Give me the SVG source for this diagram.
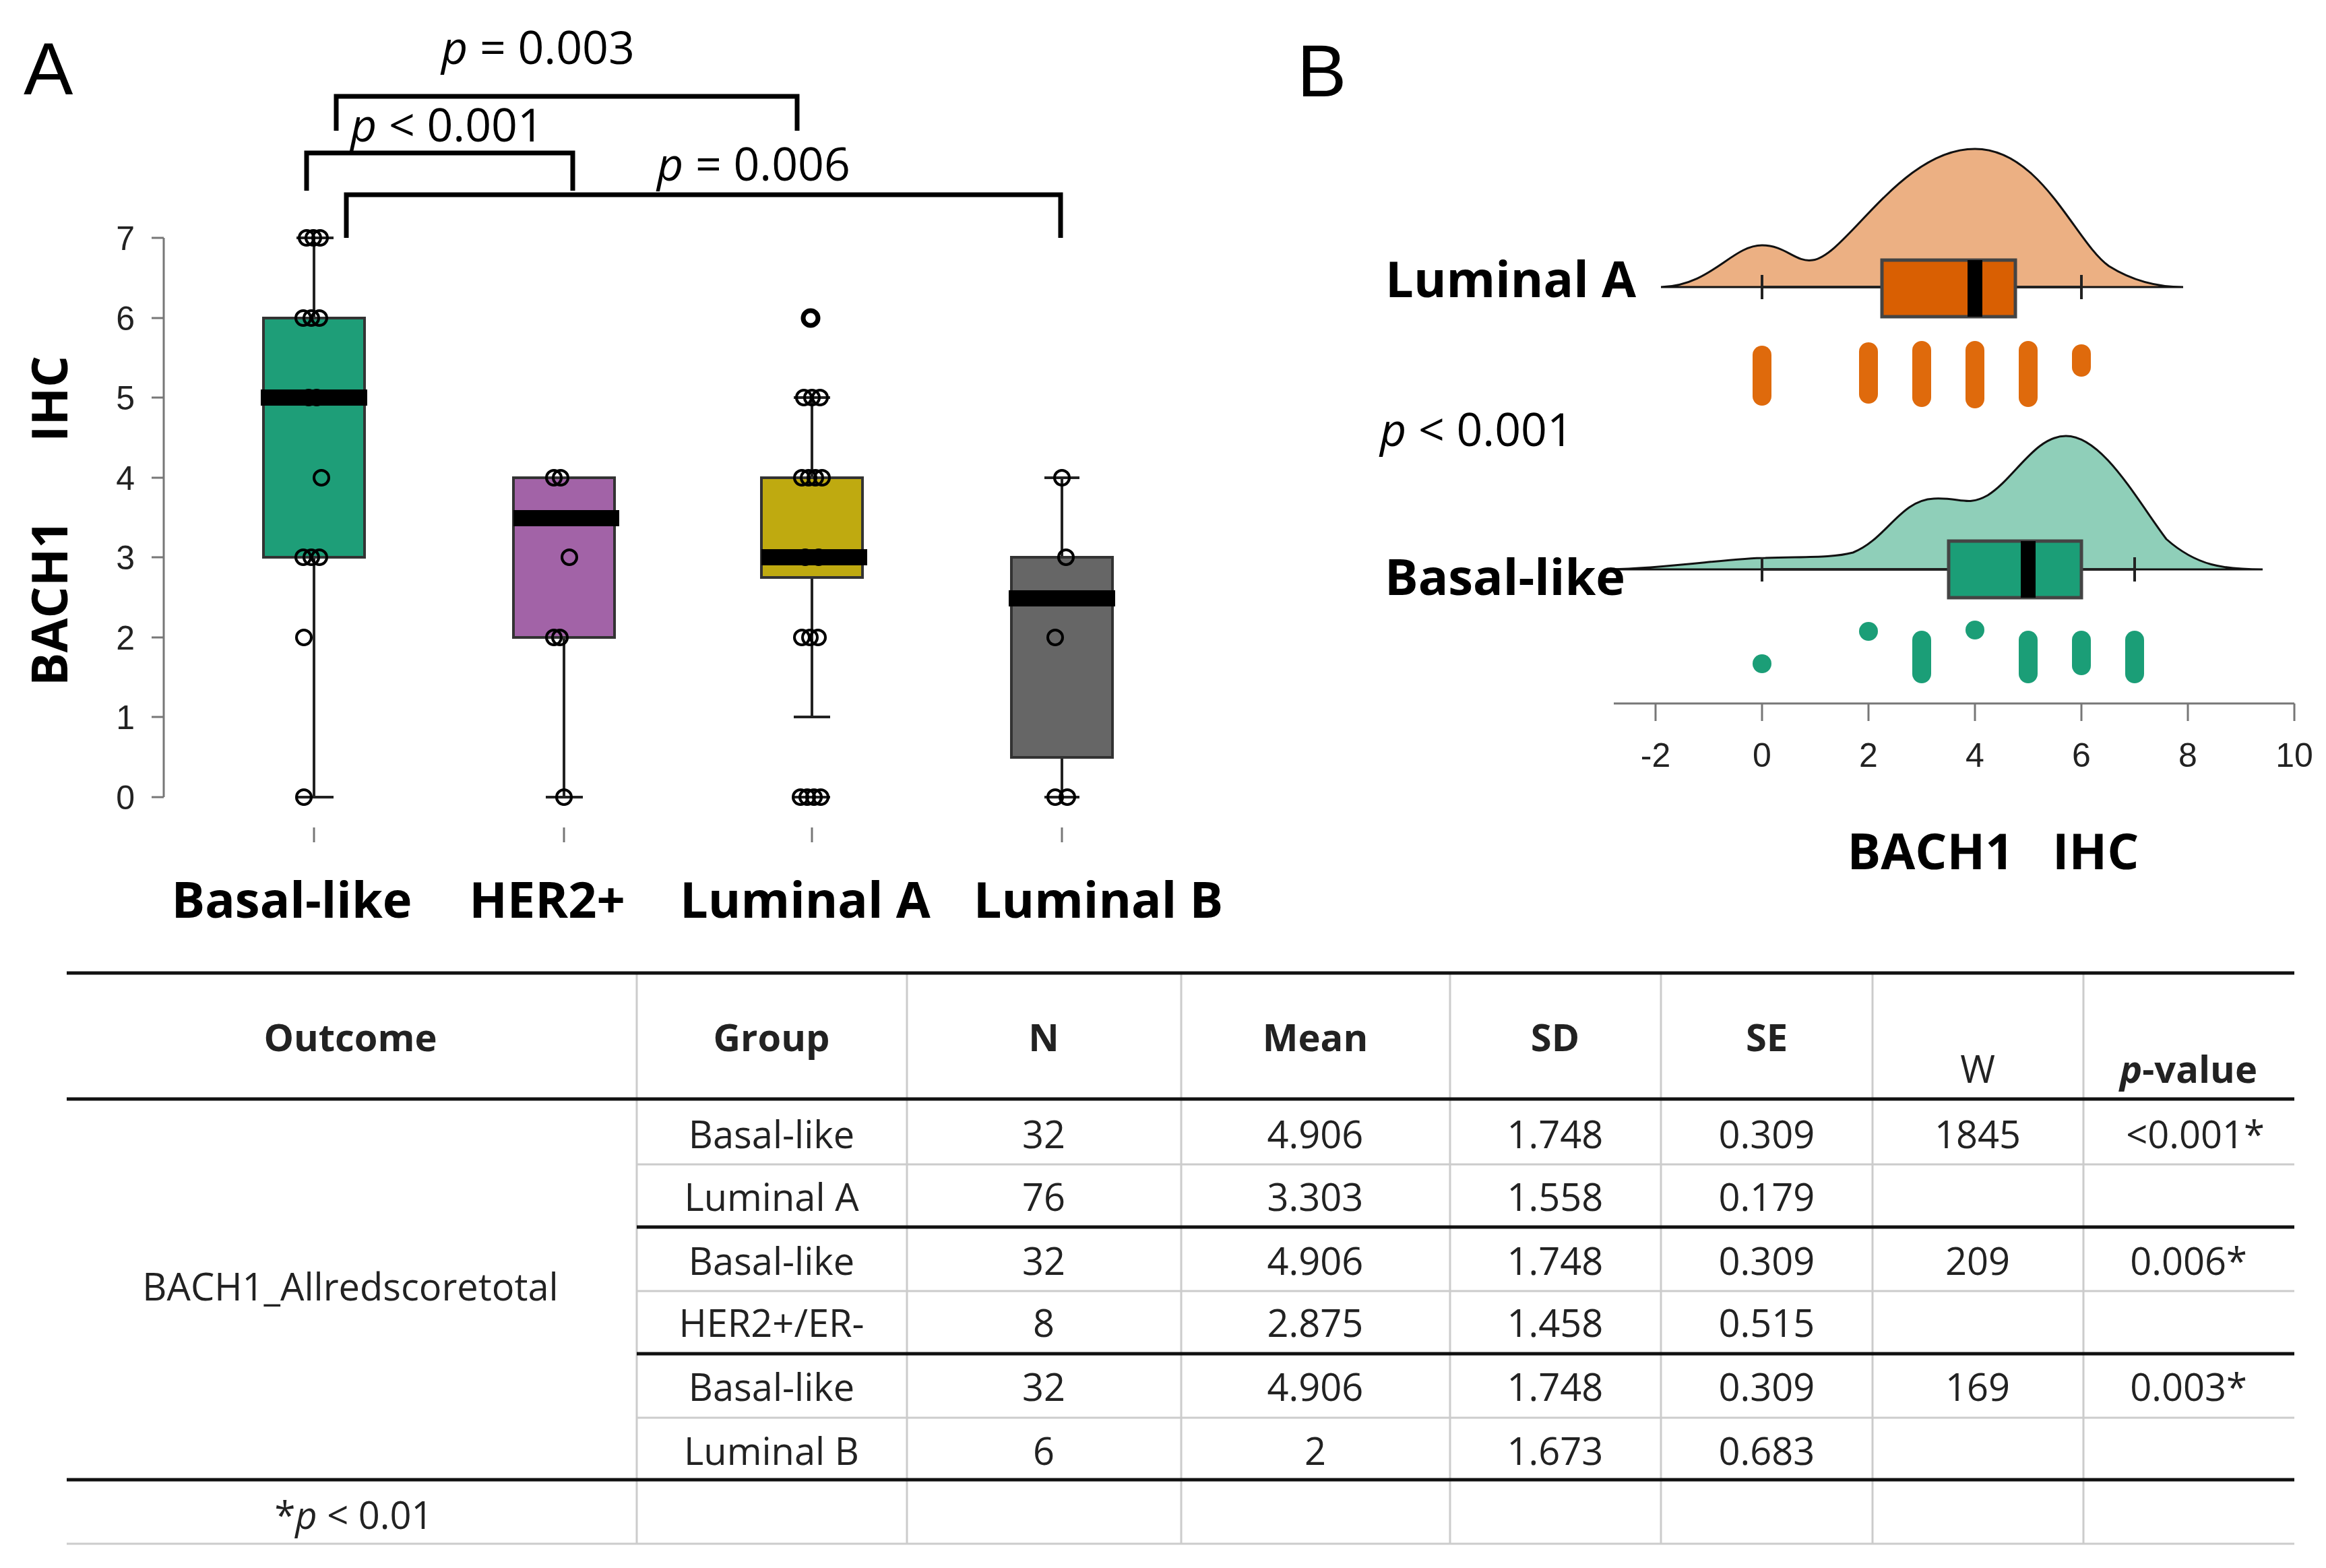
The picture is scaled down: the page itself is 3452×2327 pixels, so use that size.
<svg xmlns="http://www.w3.org/2000/svg" width="3452" height="2327" viewBox="0 0 3452 2327">
<style>
.panel{font-family:"Liberation Sans",Arial,sans-serif;font-size:110px;fill:#000}
.ax{font-family:"Liberation Sans",Arial,sans-serif;font-size:50px;fill:#222}
.bl{font-family:"Open Sans","Liberation Sans",sans-serif;font-weight:bold;font-size:74px;fill:#000}
.pv{font-family:"Open Sans","Liberation Sans",sans-serif;font-size:68px;fill:#000}
.th{font-family:"Open Sans","Liberation Sans",sans-serif;font-weight:bold;font-size:56px;fill:#222;text-anchor:middle}
.td{font-family:"Open Sans","Liberation Sans",sans-serif;font-size:56px;fill:#222;text-anchor:middle}
.br{fill:none;stroke:#000;stroke-width:7}
.oc{fill:none;stroke:#000;stroke-width:4}
.wk{stroke:#222;stroke-width:4;fill:none}
.med{fill:#000}
.thick{stroke:#111;stroke-width:5}
.thin{stroke:#ccc;stroke-width:3}
</style>
<rect width="3452" height="2327" fill="#fff"/>
<g id="panelA">
<text class="panel" x="35" y="140">A</text>
<g id="yaxisA">
<line x1="243" y1="353" x2="243" y2="1183" stroke="#777" stroke-width="3"/>
<g stroke="#777" stroke-width="3">
<line x1="225" y1="353" x2="243" y2="353"/><line x1="225" y1="472" x2="243" y2="472"/><line x1="225" y1="590" x2="243" y2="590"/><line x1="225" y1="709" x2="243" y2="709"/><line x1="225" y1="827" x2="243" y2="827"/><line x1="225" y1="946" x2="243" y2="946"/><line x1="225" y1="1064" x2="243" y2="1064"/><line x1="225" y1="1183" x2="243" y2="1183"/>
</g>
<g class="ax" text-anchor="end">
<text x="200" y="371">7</text><text x="200" y="490">6</text><text x="200" y="608">5</text><text x="200" y="727">4</text><text x="200" y="845">3</text><text x="200" y="964">2</text><text x="200" y="1082">1</text><text x="200" y="1201">0</text>
</g>
<text class="bl" transform="translate(100,773) rotate(-90)" text-anchor="middle" xml:space="preserve">BACH1      IHC</text>
</g>
<g id="xticksA" stroke="#777" stroke-width="3">
<line x1="466" y1="1228" x2="466" y2="1250"/><line x1="837" y1="1228" x2="837" y2="1250"/><line x1="1205" y1="1228" x2="1205" y2="1250"/><line x1="1576" y1="1228" x2="1576" y2="1250"/>
</g>
<g class="bl" text-anchor="middle">
<text x="433" y="1362">Basal-like</text><text x="812" y="1362">HER2+</text><text x="1195" y="1362">Luminal A</text><text x="1630" y="1362">Luminal B</text>
</g>
<g id="box-basal">
<line class="wk" x1="466" y1="353" x2="466" y2="1183"/>
<line class="wk" x1="440" y1="353" x2="495" y2="353"/><line class="wk" x1="440" y1="1183" x2="495" y2="1183"/>
<rect x="391" y="472" width="150" height="355" fill="#1e9e78" stroke="#333" stroke-width="4"/>
<rect class="med" x="387" y="578" width="158" height="24"/>
<g class="oc"><circle cx="455" cy="353" r="11"/><circle cx="465" cy="353" r="11"/><circle cx="475" cy="353" r="11"/><circle cx="450" cy="472" r="11"/><circle cx="462" cy="472" r="11"/><circle cx="474" cy="472" r="11"/><circle cx="458" cy="590" r="11"/><circle cx="470" cy="590" r="11"/><circle cx="477" cy="709" r="11"/><circle cx="450" cy="827" r="11"/><circle cx="462" cy="827" r="11"/><circle cx="474" cy="827" r="11"/><circle cx="451" cy="946" r="11"/><circle cx="451" cy="1183" r="11"/></g>
</g>
<g id="box-her2">
<line class="wk" x1="837" y1="946" x2="837" y2="1183"/>
<line class="wk" x1="810" y1="1183" x2="865" y2="1183"/>
<rect x="762" y="709" width="150" height="237" fill="#a263a7" stroke="#333" stroke-width="4"/>
<rect class="med" x="762" y="757" width="157" height="24"/>
<g class="oc"><circle cx="822" cy="709" r="11"/><circle cx="832" cy="709" r="11"/><circle cx="845" cy="827" r="11"/><circle cx="822" cy="946" r="11"/><circle cx="831" cy="946" r="11"/><circle cx="837" cy="1183" r="11"/></g>
</g>
<g id="box-luma">
<line class="wk" x1="1205" y1="590" x2="1205" y2="1064"/>
<line class="wk" x1="1178" y1="590" x2="1232" y2="590"/><line class="wk" x1="1178" y1="1183" x2="1232" y2="1183"/>
<rect x="1130" y="709" width="150" height="148" fill="#bfaa10" stroke="#333" stroke-width="4"/>
<rect class="med" x="1130" y="815" width="157" height="24"/>
<g class="oc"><circle cx="1203" cy="472" r="11" stroke-width="7"/><circle cx="1193" cy="590" r="11"/><circle cx="1205" cy="590" r="11"/><circle cx="1217" cy="590" r="11"/><circle cx="1190" cy="709" r="11"/><circle cx="1200" cy="709" r="11"/><circle cx="1210" cy="709" r="11"/><circle cx="1220" cy="709" r="11"/><circle cx="1195" cy="827" r="11"/><circle cx="1215" cy="827" r="11"/><circle cx="1190" cy="946" r="11"/><circle cx="1202" cy="946" r="11"/><circle cx="1214" cy="946" r="11"/><circle cx="1188" cy="1183" r="11"/><circle cx="1198" cy="1183" r="11"/><circle cx="1208" cy="1183" r="11"/><circle cx="1218" cy="1183" r="11"/></g>
<line class="wk" x1="1178" y1="1064" x2="1232" y2="1064" stroke-width="0"/>
</g>
<g id="box-lumb">
<line class="wk" x1="1576" y1="709" x2="1576" y2="1124"/>
<line class="wk" x1="1550" y1="709" x2="1602" y2="709"/><line class="wk" x1="1550" y1="1183" x2="1602" y2="1183"/>
<line class="wk" x1="1576" y1="1124" x2="1576" y2="1183"/>
<rect x="1501" y="827" width="150" height="297" fill="#666" stroke="#333" stroke-width="4"/>
<rect class="med" x="1497" y="876" width="158" height="24"/>
<g class="oc"><circle cx="1576" cy="709" r="11"/><circle cx="1582" cy="827" r="11"/><circle cx="1566" cy="946" r="11"/><circle cx="1566" cy="1183" r="11"/><circle cx="1584" cy="1183" r="11"/></g>
</g>
<g id="brackets">
<path class="br" d="M455,283 V227 H850 V283"/>
<path class="br" d="M499,194 V143 H1183 V194"/>
<path class="br" d="M514,353 V289 H1574 V353"/>
</g>
<text class="pv" x="655" y="95"><tspan font-style="italic">p</tspan> = 0.003</text>
<text class="pv" x="520" y="210"><tspan font-style="italic">p</tspan> &lt; 0.001</text>
<text class="pv" x="975" y="268"><tspan font-style="italic">p</tspan> = 0.006</text>
</g>
<g id="panelB">
<text class="panel" x="1925" y="143">B</text>
<g id="lumA-rain">
<path d="M2465,426 C2540,424 2570,364 2615,364 C2650,364 2665,390 2690,386 C2740,380 2820,221 2931,221 C3030,221 3080,360 3130,395 C3170,420 3210,426 3240,426 Z" fill="#ecb083" stroke="#111" stroke-width="3"/>
<line class="wk" x1="2615" y1="426" x2="3089" y2="426" stroke-width="5"/>
<line class="wk" x1="2615" y1="408" x2="2615" y2="444" stroke-width="5"/><line class="wk" x1="3089" y1="408" x2="3089" y2="444" stroke-width="5"/>
<rect x="2793" y="386" width="198" height="84" fill="#d95f02" stroke="#444" stroke-width="5"/>
<rect x="2920" y="386" width="22" height="84" fill="#000"/>
<g stroke="#df6a0c" stroke-width="28" stroke-linecap="round">
<line x1="2615" y1="527" x2="2615" y2="588"/><line x1="2773" y1="522" x2="2773" y2="585"/><line x1="2852" y1="520" x2="2852" y2="590"/><line x1="2931" y1="520" x2="2931" y2="592"/><line x1="3010" y1="520" x2="3010" y2="590"/><line x1="3089" y1="525" x2="3089" y2="545"/>
</g>
<text class="bl" x="2428" y="441" text-anchor="end">Luminal A</text>
</g>
<text class="pv" x="2048" y="662"><tspan font-style="italic">p</tspan> &lt; 0.001</text>
<g id="basal-rain">
<path d="M2390,845 C2480,843 2570,828 2620,828 C2680,826 2720,828 2750,820 C2800,800 2820,742 2870,740 C2910,738 2920,752 2950,735 C2990,710 3020,647 3066,647 C3120,647 3170,740 3215,800 C3260,840 3300,845 3358,845 Z" fill="#8fcfb9" stroke="#111" stroke-width="3"/>
<line class="wk" x1="2615" y1="845" x2="3168" y2="845" stroke-width="5"/>
<line class="wk" x1="2615" y1="827" x2="2615" y2="863" stroke-width="5"/><line class="wk" x1="3168" y1="827" x2="3168" y2="863" stroke-width="5"/>
<rect x="2892" y="803" width="197" height="84" fill="#1b9e77" stroke="#444" stroke-width="5"/>
<rect x="2999" y="803" width="22" height="84" fill="#000"/>
<g fill="#1b9e77"><circle cx="2615" cy="985" r="14"/><circle cx="2773" cy="937" r="14"/><circle cx="2931" cy="935" r="14"/></g>
<g stroke="#1b9e77" stroke-width="28" stroke-linecap="round">
<line x1="2852" y1="950" x2="2852" y2="1000"/><line x1="3010" y1="950" x2="3010" y2="1000"/><line x1="3089" y1="950" x2="3089" y2="988"/><line x1="3168" y1="950" x2="3168" y2="1000"/>
</g>
<text class="bl" x="2412" y="883" text-anchor="end">Basal-like</text>
</g>
<g id="xaxisB" stroke="#777" stroke-width="3">
<line x1="2395" y1="1044" x2="3405" y2="1044"/>
<line x1="2457" y1="1044" x2="2457" y2="1070"/><line x1="2615" y1="1044" x2="2615" y2="1070"/><line x1="2773" y1="1044" x2="2773" y2="1070"/><line x1="2931" y1="1044" x2="2931" y2="1070"/><line x1="3089" y1="1044" x2="3089" y2="1070"/><line x1="3247" y1="1044" x2="3247" y2="1070"/><line x1="3405" y1="1044" x2="3405" y2="1070"/>
</g>
<g class="ax" text-anchor="middle">
<text x="2457" y="1138">-2</text><text x="2615" y="1138">0</text><text x="2773" y="1138">2</text><text x="2931" y="1138">4</text><text x="3089" y="1138">6</text><text x="3247" y="1138">8</text><text x="3405" y="1138">10</text>
</g>
<text class="bl" x="2958" y="1290" text-anchor="middle" xml:space="preserve">BACH1   IHC</text>
</g>
<g id="table">
<g class="thin">
<line x1="945" y1="1444" x2="945" y2="2291"/><line x1="1346" y1="1444" x2="1346" y2="2291"/><line x1="1753" y1="1444" x2="1753" y2="2291"/><line x1="2152" y1="1444" x2="2152" y2="2291"/><line x1="2465" y1="1444" x2="2465" y2="2291"/><line x1="2779" y1="1444" x2="2779" y2="2291"/><line x1="3092" y1="1444" x2="3092" y2="2291"/>
<line x1="945" y1="1728" x2="3405" y2="1728"/><line x1="945" y1="1916" x2="3405" y2="1916"/><line x1="945" y1="2104" x2="3405" y2="2104"/><line x1="99" y1="2291" x2="3405" y2="2291"/>
</g>
<g class="thick">
<line x1="99" y1="1444" x2="3405" y2="1444"/><line x1="99" y1="1631" x2="3405" y2="1631"/><line x1="945" y1="1821" x2="3405" y2="1821"/><line x1="945" y1="2009" x2="3405" y2="2009"/><line x1="99" y1="2196" x2="3405" y2="2196"/>
</g>
<g class="th">
<text x="520" y="1560">Outcome</text><text x="1145" y="1560">Group</text><text x="1549" y="1560">N</text><text x="1952" y="1560">Mean</text><text x="2308" y="1560">SD</text><text x="2622" y="1560">SE</text><text x="2935" y="1607" font-weight="normal">W</text><text x="3248" y="1607"><tspan font-style="italic">p</tspan>-value</text>
</g>
<g class="td">
<text x="520" y="1930">BACH1_Allredscoretotal</text>
<text x="1145" y="1704">Basal-like</text><text x="1549" y="1704">32</text><text x="1952" y="1704">4.906</text><text x="2308" y="1704">1.748</text><text x="2622" y="1704">0.309</text><text x="2935" y="1704">1845</text><text x="3258" y="1704">&lt;0.001*</text>
<text x="1145" y="1797">Luminal A</text><text x="1549" y="1797">76</text><text x="1952" y="1797">3.303</text><text x="2308" y="1797">1.558</text><text x="2622" y="1797">0.179</text>
<text x="1145" y="1892">Basal-like</text><text x="1549" y="1892">32</text><text x="1952" y="1892">4.906</text><text x="2308" y="1892">1.748</text><text x="2622" y="1892">0.309</text><text x="2935" y="1892">209</text><text x="3248" y="1892">0.006*</text>
<text x="1145" y="1984">HER2+/ER-</text><text x="1549" y="1984">8</text><text x="1952" y="1984">2.875</text><text x="2308" y="1984">1.458</text><text x="2622" y="1984">0.515</text>
<text x="1145" y="2079">Basal-like</text><text x="1549" y="2079">32</text><text x="1952" y="2079">4.906</text><text x="2308" y="2079">1.748</text><text x="2622" y="2079">0.309</text><text x="2935" y="2079">169</text><text x="3248" y="2079">0.003*</text>
<text x="1145" y="2174">Luminal B</text><text x="1549" y="2174">6</text><text x="1952" y="2174">2</text><text x="2308" y="2174">1.673</text><text x="2622" y="2174">0.683</text>
<text x="525" y="2269">*<tspan font-style="italic">p</tspan> &lt; 0.01</text>
</g>
</g>
</svg>
